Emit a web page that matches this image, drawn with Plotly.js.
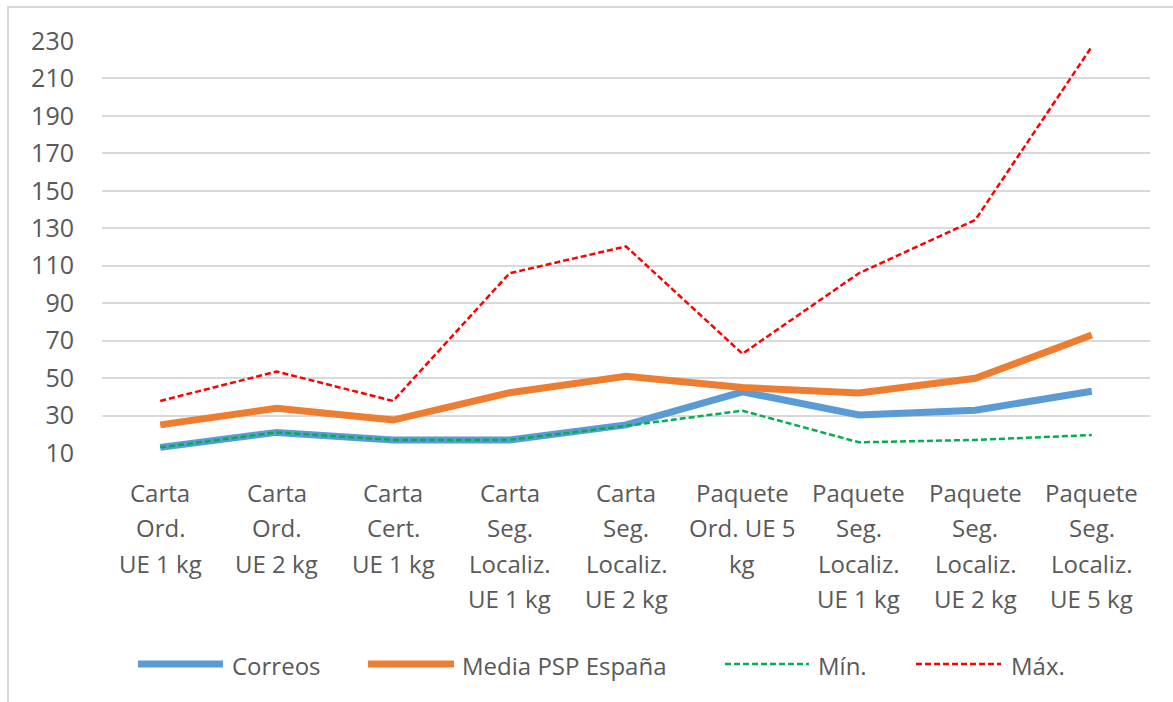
<!DOCTYPE html>
<html>
<head>
<meta charset="utf-8">
<script src="https://cdn.plot.ly/plotly-3.0.1.min.js"></script>
<style>
  html, body { margin: 0; padding: 0; background: #fff; }
  #wrap { position: relative; width: 1173px; height: 702px; }
  #chart { position: absolute; left: 0; top: 0; width: 1173px; height: 702px; }
  #frame { position: absolute; left: 7px; top: 6px; width: 1180px; height: 710px;
           border-top: 2px solid #d9d9d9; border-left: 2px solid #d9d9d9; pointer-events: none; }
</style>
</head>
<body>
<div id="wrap"><div id="chart"></div><div id="frame"></div></div>
<script>
// ---- data ----
const categories = [
  "Carta<br>Ord.<br>UE 1 kg",
  "Carta<br>Ord.<br>UE 2 kg",
  "Carta<br>Cert.<br>UE 1 kg",
  "Carta<br>Seg.<br>Localiz.<br>UE 1 kg",
  "Carta<br>Seg.<br>Localiz.<br>UE 2 kg",
  "Paquete<br>Ord. UE 5<br>kg",
  "Paquete<br>Seg.<br>Localiz.<br>UE 1 kg",
  "Paquete<br>Seg.<br>Localiz.<br>UE 2 kg",
  "Paquete<br>Seg.<br>Localiz.<br>UE 5 kg"
];
const seriesNames = ["Correos", "Media PSP España", "Mín.", "Máx."];
const correos = [13.0, 21.0, 17.0, 17.0, 25.0, 42.7, 30.3, 32.8, 43.0];
const mediaPSP = [25.0, 33.9, 27.6, 42.2, 51.0, 45.0, 42.0, 49.9, 73.0];
const minimo  = [13.0, 21.0, 17.0, 17.0, 24.5, 32.6, 15.7, 17.0, 19.6];
const maximo  = [37.8, 53.5, 37.8, 106.0, 120.3, 63.0, 106.0, 134.5, 227.0];
const yTicks = [10, 30, 50, 70, 90, 110, 130, 150, 170, 190, 210, 230];

// ---- styles ----
const FONT = "Open Sans, DejaVu Sans, sans-serif";
const TXT = "#595959";
const styles = [
  {color: "#5B9BD5", width: 7, dash: "solid"},
  {color: "#ED7D31", width: 7, dash: "solid"},
  {color: "#00B050", width: 2.5, dash: "6px,3px"},
  {color: "#FF0000", width: 2.5, dash: "6px,3px"}
];
const values = [correos, mediaPSP, minimo, maximo];
const xIdx = categories.map((_, i) => i);

const traces = values.map((v, k) => ({
  type: "scatter", mode: "lines", name: seriesNames[k],
  x: xIdx, y: v,
  line: {color: styles[k].color, width: styles[k].width, dash: styles[k].dash},
  hoverinfo: "skip", showlegend: false
}));

// pixel geometry of plot area
const W = 1173, H = 702;
const M = {l: 102, r: 23, t: 41, b: 249};
const pw = W - M.l - M.r, ph = H - M.t - M.b;
const px2x = p => (p - M.l) / pw;
const py2y = p => (H - M.b - p) / ph;

// category labels (one annotation per wrapped line)
const annotations = [];
categories.forEach((c, i) => {
  c.split("<br>").forEach((line, j) => {
    annotations.push({
      xref: "x", yref: "paper", x: i, y: py2y(492 + 35.5 * j),
      text: line, showarrow: false, xanchor: "center", yanchor: "middle",
      font: {family: FONT, size: 24, color: TXT}
    });
  });
});

// custom legend
const legendY = 664;
const legendItems = [
  {x0: 138, x1: 223, tx: 230},
  {x0: 368, x1: 454, tx: 460},
  {x0: 725, x1: 809, tx: 816},
  {x0: 916, x1: 1001, tx: 1009}
];
const shapes = [];
legendItems.forEach((it, k) => {
  shapes.push({
    type: "line", xref: "paper", yref: "paper",
    x0: px2x(it.x0), x1: px2x(it.x1), y0: py2y(legendY), y1: py2y(legendY),
    line: {color: styles[k].color, width: styles[k].width, dash: styles[k].dash}
  });
  annotations.push({
    xref: "paper", yref: "paper", x: px2x(it.tx), y: py2y(legendY + 1),
    text: seriesNames[k], showarrow: false, xanchor: "left", yanchor: "middle",
    font: {family: FONT, size: 24, color: TXT}
  });
});

const layout = {
  width: W, height: H,
  margin: M,
  paper_bgcolor: "#ffffff", plot_bgcolor: "#ffffff",
  showlegend: false,
  xaxis: {
    range: [-0.5, categories.length - 0.5],
    showgrid: false, zeroline: false, showline: false,
    showticklabels: false, ticks: "", fixedrange: true
  },
  yaxis: {
    range: [10, 230],
    tickvals: yTicks, ticktext: yTicks.map(String),
    showgrid: true, gridcolor: "#D9D9D9", gridwidth: 2,
    zeroline: false, showline: false, ticks: "",
    ticklabelstandoff: 27,
    tickfont: {family: FONT, size: 25, color: TXT}, fixedrange: true
  },
  shapes: shapes,
  annotations: annotations
};

Plotly.newPlot("chart", traces, layout, {displayModeBar: false, staticPlot: true});
</script>
</body>
</html>
